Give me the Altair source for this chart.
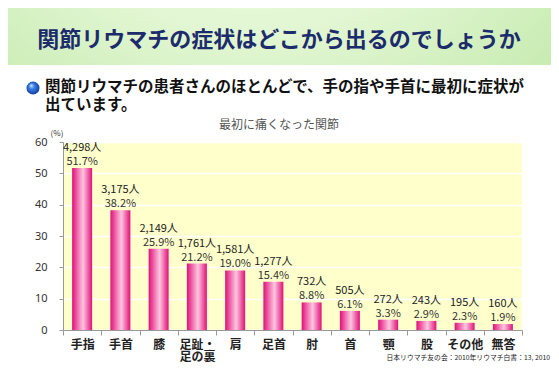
import altair as alt
import pandas as pd

categories = ["手指", "手首", "膝", "足趾・\n足の裏", "肩", "足首", "肘", "首", "顎", "股", "その他", "無答"]
percents = [51.7, 38.2, 25.9, 21.2, 19.0, 15.4, 8.8, 6.1, 3.3, 2.9, 2.3, 1.9]
counts = [4298, 3175, 2149, 1761, 1581, 1277, 732, 505, 272, 243, 195, 160]
y_ticks = [0, 10, 20, 30, 40, 50, 60]

title_text = "関節リウマチの症状はどこから出るのでしょうか"
bullet_line1 = "関節リウマチの患者さんのほとんどで、手の指や手首に最初に症状が"
bullet_line2 = "出ています。"
chart_title = "最初に痛くなった関節"
unit_text = "(%)"
source_text = "日本リウマチ友の会：2010年リウマチ白書：13, 2010"

FONT = "Noto Sans CJK JP"

df = pd.DataFrame({
    "cat": categories,
    "pct": percents,
    "cnt": counts,
})
df["pct_label"] = [f"{p:.1f}%" for p in percents]
df["cnt_label"] = [f"{c:,}人" for c in counts]

x_axis = alt.Axis(labelAngle=0, labelFontSize=12, labelFontWeight="bold",
                  labelColor="#222", labelFont=FONT, labelPadding=4,
                  tickBand="extent", tickSize=5, tickColor="#999",
                  domainColor="#999", labelExpr="split(datum.label, '\\n')",
                  labelLineHeight=12.5, labelBaseline="top", labelOverlap=False)
y_axis = alt.Axis(values=y_ticks, labelFontSize=11, labelColor="#333",
                  labelFont="Noto Sans", labelPadding=12, tickSize=4,
                  tickColor="#999", domainColor="#999", labelOverlap=False,
                  grid=True, gridColor="#FFFFFF", gridWidth=1.5)

def x_enc():
    return alt.X("cat:N", sort=categories, title=None,
                 scale=alt.Scale(paddingInner=0, paddingOuter=0), axis=x_axis)

def y_enc():
    return alt.Y("pct:Q", title=None,
                 scale=alt.Scale(domain=[0, 60], nice=False), axis=y_axis)

bar_grad = alt.LinearGradient(
    gradient="linear", x1=0, y1=0, x2=1, y2=0,
    stops=[alt.GradientStop(offset=0, color="#E0107A"),
           alt.GradientStop(offset=0.55, color="#FFC6E0"),
           alt.GradientStop(offset=1, color="#E0107A")])

bars = alt.Chart(df).mark_bar(fill=bar_grad, size=20).encode(x=x_enc(), y=y_enc())

pct_text = alt.Chart(df).mark_text(baseline="bottom", dy=-1, fontSize=11, font=FONT,
                                   color="#333").encode(x=x_enc(), y=y_enc(),
                                                        text="pct_label:N")
cnt_text = alt.Chart(df).mark_text(baseline="bottom", dy=-15, fontSize=11, font=FONT,
                                   color="#222").encode(x=x_enc(), y=y_enc(),
                                                        text="cnt_label:N")

one = pd.DataFrame({"a": [0]})

header_grad = alt.RadialGradient(
    gradient="radial", x1=0.45, y1=0.0, r1=0, x2=0.45, y2=0.0, r2=0.95,
    stops=[alt.GradientStop(offset=0, color="#FFFFFF"),
           alt.GradientStop(offset=0.5, color="#E3F7D4"),
           alt.GradientStop(offset=1, color="#B8E59E")])
header = alt.Chart(one).mark_rect(fill=header_grad).encode(
    x=alt.value(-55), x2=alt.value(488), y=alt.value(-134), y2=alt.value(-77))

def txt(s, x, y, **kw):
    return alt.Chart(pd.DataFrame({"t": [s]})).mark_text(**kw).encode(
        x=alt.value(x), y=alt.value(y), text="t:N")

title = txt(title_text, 216, -102, fontSize=22, fontWeight="bold", font=FONT,
            color="#1C2B6C", align="center", baseline="middle")

bullet_grad = alt.RadialGradient(
    gradient="radial", x1=0.35, y1=0.3, r1=0, x2=0.5, y2=0.5, r2=0.6,
    stops=[alt.GradientStop(offset=0, color="#D8ECFF"),
           alt.GradientStop(offset=0.35, color="#3C7FE0"),
           alt.GradientStop(offset=1, color="#0A2E9A")])
bullet = alt.Chart(one).mark_point(filled=True, shape="circle", size=170,
                                   fill=bullet_grad, opacity=1).encode(
    x=alt.value(-30), y=alt.value(-54))

line1 = txt(bullet_line1, -18, -55, fontSize=15.5, fontWeight="bold", font=FONT,
            color="#111", align="left", baseline="middle")
line2 = txt(bullet_line2, -18, -37, fontSize=15.5, fontWeight="bold", font=FONT,
            color="#111", align="left", baseline="middle")
ctitle = txt(chart_title, 216, -17, fontSize=12, font=FONT, color="#555",
             align="center", baseline="middle")
unit = txt(unit_text, -6, -8, fontSize=8, font=FONT, color="#333",
           align="center", baseline="middle")
source = txt(source_text, 487, 216, fontSize=6.8, font=FONT, color="#222",
             align="right", baseline="middle")

chart = alt.layer(header, title, bullet, line1, line2, ctitle, unit, bars,
                  pct_text, cnt_text, source).properties(
    width=459, height=188,
    autosize="none",
    padding={"left": 55, "top": 134, "right": 29, "bottom": 33},
    background="#FFFFFF",
).configure_view(fill="#FFFFCC", stroke=None)

chart.save("out.html", embed_options={"renderer": "svg", "actions": False})
